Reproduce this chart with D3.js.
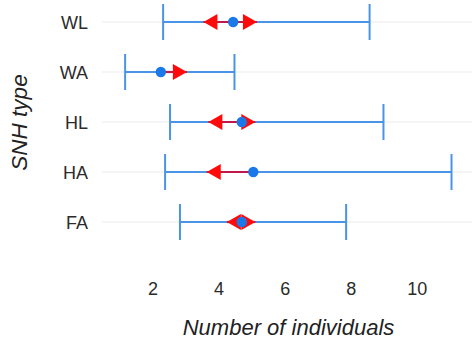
<!DOCTYPE html>
<html>
<head>
<meta charset="utf-8">
<script src="https://cdn.jsdelivr.net/npm/d3@7"></script>
<style>
  html, body { margin: 0; padding: 0; background: #fff; }
  svg { display: block; }
  text { font-family: "Liberation Sans", Arial, sans-serif; }
</style>
</head>
<body>
<svg id="chart" width="475" height="341"></svg>
<script>
const categories = ["WL", "WA", "HL", "HA", "FA"];
const lowerCI   = [2.32, 1.17, 2.53, 2.38, 2.83];
const upperCI   = [8.57, 4.48, 8.99, 11.05, 7.86];
const meanVals  = [4.44, 2.25, 4.70, 5.05, 4.70];
const arrowLow  = [3.54, null, 3.69, 3.64, 4.25];
const arrowHigh = [5.16, 3.04, 5.11, null, 5.11];
const xTicks    = [2, 4, 6, 8, 10];
const xTitle = "Number of individuals";
const yTitle = "SNH type";

const svg = d3.select("#chart");
const x = d3.scaleLinear().domain([0.47, 11.67]).range([102, 472]);
const y = d3.scalePoint().domain(categories).range([22, 222]);

const blueLine = "#4a94e8";
const blueDot = "#1a78e8";
const red = "#ff0a0a";

// grid
svg.append("g").selectAll("line").data(categories).join("line")
  .attr("x1", x.range()[0]).attr("x2", x.range()[1])
  .attr("y1", d => y(d)).attr("y2", d => y(d))
  .attr("stroke", "#ebebeb").attr("stroke-width", 1.2);

// axes
const xAxis = svg.append("g").attr("transform", "translate(0,295)")
  .call(d3.axisBottom(x).tickValues(xTicks).tickSize(0).tickPadding(0));
xAxis.select(".domain").remove();
xAxis.selectAll("text").attr("font-size", 18).attr("fill", "#2b2b2b")
  .attr("dy", 0).attr("y", 0);

const yAxis = svg.append("g").attr("transform", "translate(88,0)")
  .call(d3.axisLeft(y).tickSize(0).tickPadding(0));
yAxis.select(".domain").remove();
yAxis.selectAll("text").attr("font-size", 18).attr("fill", "#2b2b2b")
  .attr("x", 0).attr("dy", "0.36em");

// titles
svg.append("text").attr("x", 288.5).attr("y", 335).attr("text-anchor", "middle")
  .attr("font-size", 22).attr("font-style", "italic").attr("fill", "#222").text(xTitle);
svg.append("text").attr("transform", "translate(27,122.5) rotate(-90)")
  .attr("text-anchor", "middle").attr("font-size", 22.5).attr("font-style", "italic")
  .attr("fill", "#222").text(yTitle);

const rows = categories.map((c, i) => ({
  c, lo: lowerCI[i], hi: upperCI[i], m: meanVals[i], al: arrowLow[i], ah: arrowHigh[i]
}));

// error bars
const eb = svg.append("g");
eb.selectAll("line.h").data(rows).join("line").attr("class", "h")
  .attr("x1", d => x(d.lo)).attr("x2", d => x(d.hi))
  .attr("y1", d => y(d.c)).attr("y2", d => y(d.c))
  .attr("stroke", blueLine).attr("stroke-width", 2);
eb.selectAll("line.cl").data(rows).join("line").attr("class", "cl")
  .attr("x1", d => x(d.lo)).attr("x2", d => x(d.lo))
  .attr("y1", d => y(d.c) - 18).attr("y2", d => y(d.c) + 18)
  .attr("stroke", blueLine).attr("stroke-width", 2);
eb.selectAll("line.ch").data(rows).join("line").attr("class", "ch")
  .attr("x1", d => x(d.hi)).attr("x2", d => x(d.hi))
  .attr("y1", d => y(d.c) - 18).attr("y2", d => y(d.c) + 18)
  .attr("stroke", blueLine).attr("stroke-width", 2);

// red arrows
const ar = svg.append("g");
ar.selectAll("line").data(rows).join("line")
  .attr("x1", d => x(d.al != null ? d.al : d.m))
  .attr("x2", d => x(d.ah != null ? d.ah : d.m))
  .attr("y1", d => y(d.c)).attr("y2", d => y(d.c))
  .attr("stroke", "#c0184a").attr("stroke-width", 2.2);
const headL = 14, headH = 8;
ar.selectAll("path.l").data(rows.filter(d => d.al != null)).join("path").attr("class", "l")
  .attr("d", d => {
    const tx = x(d.al), cy = y(d.c);
    return `M${tx},${cy}L${tx + headL},${cy - headH}L${tx + headL},${cy + headH}Z`;
  }).attr("fill", red);
ar.selectAll("path.r").data(rows.filter(d => d.ah != null)).join("path").attr("class", "r")
  .attr("d", d => {
    const tx = x(d.ah), cy = y(d.c);
    return `M${tx},${cy}L${tx - headL},${cy - headH}L${tx - headL},${cy + headH}Z`;
  }).attr("fill", red);

// mean points
svg.append("g").selectAll("circle").data(rows).join("circle")
  .attr("cx", d => x(d.m)).attr("cy", d => y(d.c)).attr("r", 5.2)
  .attr("fill", blueDot);
</script>
</body>
</html>
